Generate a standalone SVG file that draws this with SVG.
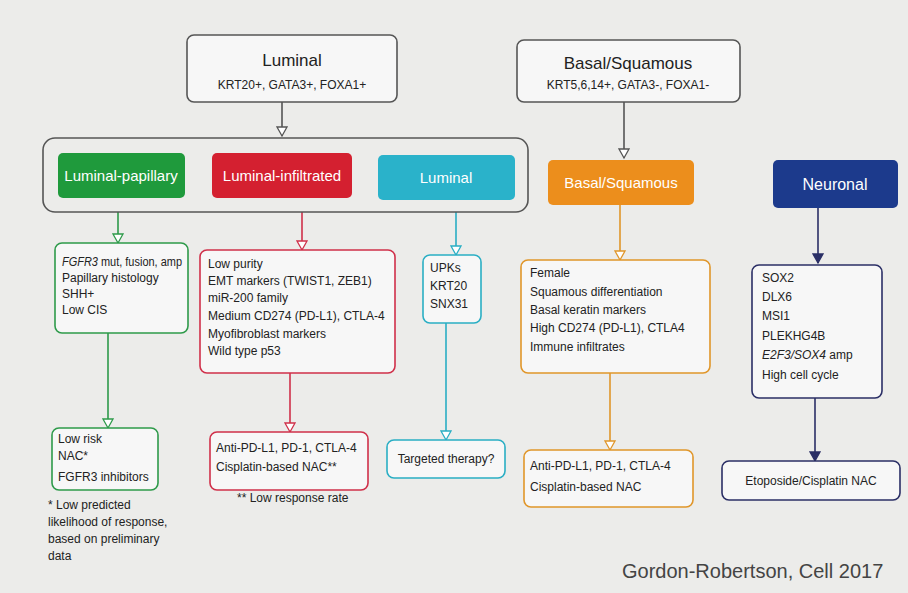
<svg xmlns="http://www.w3.org/2000/svg" width="908" height="593" viewBox="0 0 908 593">
<defs>
<style>
text{font-family:"Liberation Sans",Arial,sans-serif;fill:#222;font-size:12px}
.t{font-size:17px;text-anchor:middle}
.s{text-anchor:middle}
.w{fill:#fff;font-size:15px;text-anchor:middle}
.box{fill:#f7f7f7;stroke-width:1.6}
.g{stroke:#2e9a4a}.r{stroke:#d0304a}.c{stroke:#2aaec4}.o{stroke:#e0962a}.n{stroke:#2b2f66}.k{stroke:#555}
line{stroke-width:1.6}
</style>
<marker id="ak" markerWidth="12" markerHeight="12" refX="10" refY="6" orient="auto" markerUnits="userSpaceOnUse"><path d="M1,1 L10,6 L1,11 Z" fill="#fff" stroke="#555" stroke-width="1.3"/></marker>
<marker id="ag" markerWidth="12" markerHeight="12" refX="10" refY="6" orient="auto" markerUnits="userSpaceOnUse"><path d="M1,1 L10,6 L1,11 Z" fill="#fff" stroke="#2e9a4a" stroke-width="1.3"/></marker>
<marker id="ar" markerWidth="12" markerHeight="12" refX="10" refY="6" orient="auto" markerUnits="userSpaceOnUse"><path d="M1,1 L10,6 L1,11 Z" fill="#fff" stroke="#d0304a" stroke-width="1.3"/></marker>
<marker id="ac" markerWidth="12" markerHeight="12" refX="10" refY="6" orient="auto" markerUnits="userSpaceOnUse"><path d="M1,1 L10,6 L1,11 Z" fill="#fff" stroke="#2aaec4" stroke-width="1.3"/></marker>
<marker id="ao" markerWidth="12" markerHeight="12" refX="10" refY="6" orient="auto" markerUnits="userSpaceOnUse"><path d="M1,1 L10,6 L1,11 Z" fill="#fff" stroke="#e0962a" stroke-width="1.3"/></marker>
<marker id="an" markerWidth="12" markerHeight="12" refX="10" refY="6" orient="auto" markerUnits="userSpaceOnUse"><path d="M1,1 L10,6 L1,11 Z" fill="#2b2f66" stroke="#2b2f66" stroke-width="1.3"/></marker>
</defs>
<rect width="908" height="593" fill="#ececea"/>
<g id="connectors">
<line x1="282" y1="102" x2="282" y2="136" class="k" marker-end="url(#ak)"/>
<line x1="624" y1="102" x2="624" y2="158" class="k" marker-end="url(#ak)"/>
<line x1="118" y1="212" x2="118" y2="243" class="g" marker-end="url(#ag)"/>
<line x1="302" y1="212" x2="302" y2="250" class="r" marker-end="url(#ar)"/>
<line x1="456" y1="212" x2="456" y2="255" class="c" marker-end="url(#ac)"/>
<line x1="620" y1="205" x2="620" y2="260" class="o" marker-end="url(#ao)"/>
<line x1="818" y1="208" x2="818" y2="263" class="n" marker-end="url(#an)"/>
<line x1="108" y1="333" x2="108" y2="428" class="g" marker-end="url(#ag)"/>
<line x1="290" y1="373" x2="290" y2="432" class="r" marker-end="url(#ar)"/>
<line x1="446" y1="323" x2="446" y2="440" class="c" marker-end="url(#ac)"/>
<line x1="610" y1="373" x2="610" y2="450" class="o" marker-end="url(#ao)"/>
<line x1="815" y1="398" x2="815" y2="461" class="n" marker-end="url(#an)"/>
</g>
<g id="luminal-top"><rect x="187" y="35" width="210" height="67" rx="7" class="box k"/><text x="292" y="66" class="t">Luminal</text><text x="292" y="89" class="s">KRT20+, GATA3+, FOXA1+</text></g>
<g id="basal-top"><rect x="517" y="40" width="223" height="62" rx="7" class="box k"/><text x="628" y="69" class="t">Basal/Squamous</text><text x="628" y="89" class="s">KRT5,6,14+, GATA3-, FOXA1-</text></g>
<g id="luminal-group"><rect x="43" y="138" width="485" height="74" rx="12" fill="none" stroke="#555" stroke-width="1.6"/></g>
<g id="lp"><rect x="58" y="153" width="127" height="45" rx="5" fill="#1f9a3c"/><text x="121" y="181" class="w">Luminal-papillary</text></g>
<g id="li"><rect x="212" y="153" width="140" height="45" rx="5" fill="#d42030"/><text x="282" y="181" class="w">Luminal-infiltrated</text></g>
<g id="lu"><rect x="378" y="155" width="137" height="45" rx="5" fill="#2ab2ca"/><text x="446" y="183" class="w">Luminal</text></g>
<g id="bs"><rect x="548" y="160" width="146" height="45" rx="5" fill="#ec8e1c"/><text x="621" y="188" class="w">Basal/Squamous</text></g>
<g id="ne"><rect x="773" y="160" width="125" height="48" rx="5" fill="#1c3a8c"/><text x="835" y="190" class="w" style="font-size:16px">Neuronal</text></g>
<g id="lp-m"><rect x="55" y="243" width="133" height="90" rx="7" class="box g"/>
<text x="62" y="266" textLength="120" lengthAdjust="spacingAndGlyphs"><tspan font-style="italic">FGFR3</tspan> mut, fusion, amp</text><text x="62" y="282">Papillary histology</text><text x="62" y="298">SHH+</text><text x="62" y="314">Low CIS</text></g>
<g id="li-m"><rect x="200" y="250" width="195" height="123" rx="7" class="box r"/>
<text x="208" y="268">Low purity</text><text x="208" y="285">EMT markers (TWIST1, ZEB1)</text><text x="208" y="302">miR-200 family</text><text x="208" y="320">Medium CD274 (PD-L1), CTLA-4</text><text x="208" y="338">Myofibroblast markers</text><text x="208" y="355">Wild type p53</text></g>
<g id="lu-m"><rect x="423" y="255" width="58" height="68" rx="7" class="box c"/>
<text x="430" y="272">UPKs</text><text x="430" y="290">KRT20</text><text x="430" y="308">SNX31</text></g>
<g id="bs-m"><rect x="521" y="260" width="189" height="113" rx="7" class="box o"/>
<text x="530" y="277">Female</text><text x="530" y="296">Squamous differentiation</text><text x="530" y="314">Basal keratin markers</text><text x="530" y="332">High CD274 (PD-L1), CTLA4</text><text x="530" y="351">Immune infiltrates</text></g>
<g id="ne-m"><rect x="752" y="265" width="130" height="133" rx="7" class="box n"/>
<text x="762" y="282">SOX2</text><text x="762" y="301">DLX6</text><text x="762" y="320">MSI1</text><text x="762" y="340">PLEKHG4B</text><text x="762" y="359"><tspan font-style="italic">E2F3/SOX4</tspan> amp</text><text x="762" y="379">High cell cycle</text></g>
<g id="lp-t"><rect x="52" y="428" width="106" height="62" rx="7" class="box g"/>
<text x="58" y="443">Low risk</text><text x="58" y="460">NAC*</text><text x="58" y="481">FGFR3 inhibitors</text></g>
<g id="li-t"><rect x="210" y="432" width="158" height="58" rx="7" class="box r"/>
<text x="216" y="452">Anti-PD-L1, PD-1, CTLA-4</text><text x="216" y="471">Cisplatin-based NAC**</text></g>
<g id="lu-t"><rect x="387" y="440" width="118" height="38" rx="7" class="box c"/><text x="446" y="463" class="s">Targeted therapy?</text></g>
<g id="bs-t"><rect x="524" y="450" width="169" height="57" rx="7" class="box o"/>
<text x="530" y="470">Anti-PD-L1, PD-1, CTLA-4</text><text x="530" y="491">Cisplatin-based NAC</text></g>
<g id="ne-t"><rect x="722" y="461" width="178" height="39" rx="7" class="box n"/><text x="811" y="485" class="s">Etoposide/Cisplatin NAC</text></g>
<text x="48" y="509">* Low predicted</text><text x="48" y="526">likelihood of response,</text><text x="48" y="543">based on preliminary</text><text x="48" y="560">data</text>
<text x="237" y="502">** Low response rate</text>
<text x="622" y="578" style="font-size:20px;fill:#444">Gordon-Robertson, Cell 2017</text>
</svg>
